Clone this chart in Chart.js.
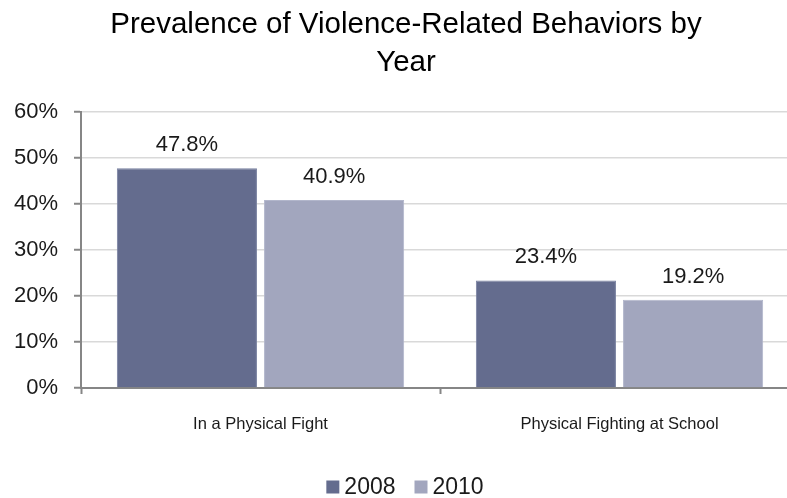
<!DOCTYPE html>
<html>
<head>
<meta charset="utf-8">
<script src="https://cdn.jsdelivr.net/npm/chart.js@4/dist/chart.umd.min.js"></script>
<style>
    html, body { margin: 0; padding: 0; background: #fff; overflow: hidden; }
    #wrap { width: 812px; height: 498px; }
</style>
</head>
<body>
<div id="wrap"><canvas id="chart"></canvas></div>
<script>
// chart data
const categories = ["In a Physical Fight", "Physical Fighting at School"]
const seriesNames = ["2008", "2010"]
const values2008 = [47.8, 23.4]
const values2010 = [40.9, 19.2]
const yTicks = [0, 10, 20, 30, 40, 50, 60]

const axisGray = "#868686"
const textColor = "#1a1a1a"
const font = "'Liberation Sans', Arial, sans-serif"

// value labels above each bar
const barLabels = {
    id: "barLabels",
    afterDatasetsDraw(chart) {
        const ctx = chart.ctx
        ctx.save()
        ctx.font = "22px " + font
        ctx.fillStyle = textColor
        ctx.textAlign = "center"
        ctx.textBaseline = "middle"
        chart.data.datasets.forEach(function(ds, i) {
            chart.getDatasetMeta(i).data.forEach(function(bar, j) {
                ctx.fillText(ds.data[j].toFixed(1) + "%", bar.x, bar.y - 23)
            })
        })
        ctx.restore()
    }
}

// legend drawn by hand so the box/text spacing matches
const bottomLegend = {
    id: "bottomLegend",
    afterDraw(chart) {
        const ctx = chart.ctx
        const box = 13, gapText = 5, gapItem = 19
        const y = 487
        ctx.save()
        ctx.font = "23px " + font
        ctx.textBaseline = "middle"
        const items = chart.data.datasets.map(ds => ({
            text: ds.label, color: ds.backgroundColor, w: ctx.measureText(ds.label).width
        }))
        let total = 0
        items.forEach((it, i) => { total += box + gapText + it.w + (i ? gapItem : 0) })
        let x = chart.width / 2 - total / 2 - 1
        items.forEach(function(it) {
            ctx.fillStyle = it.color
            ctx.fillRect(x, y - box / 2, box, box)
            ctx.fillStyle = textColor
            ctx.fillText(it.text, x + box + gapText, y + 1)
            x += box + gapText + it.w + gapItem
        })
        ctx.restore()
    }
}

const chart = new Chart(document.getElementById("chart"), {
    type: "bar",
    data: {
        labels: categories,
        datasets: [{
            label: seriesNames[0],
            data: values2008,
            backgroundColor: "#646c8e",
            borderColor: "#7880a0",
            borderWidth: 1
        }, {
            label: seriesNames[1],
            data: values2010,
            backgroundColor: "#a2a6be",
            borderColor: "#b2b6cb",
            borderWidth: 1
        }]
    },
    options: {
        responsive: true,
        maintainAspectRatio: false,
        animation: false,
        layout: { padding: { left: 13, right: 13, top: 0, bottom: 40 } },
        datasets: {
            bar: { categoryPercentage: 0.82, barPercentage: 0.952 }
        },
        plugins: {
            title: {
                display: true,
                text: ["Prevalence of Violence-Related Behaviors by", "Year"],
                color: "#000",
                font: { family: font, size: 29.5, weight: "normal", lineHeight: 1.29 },
                padding: { top: 6, bottom: 30 }
            },
            legend: { display: false },
            tooltip: { enabled: false }
        },
        scales: {
            x: {
                afterFit(scale) { scale.height = 70 },
                grid: {
                    drawOnChartArea: false,
                    offset: true,
                    tickLength: 6,
                    tickColor: axisGray,
                    tickWidth: 2
                },
                border: { color: axisGray, width: 2 },
                ticks: {
                    color: textColor,
                    font: { family: font, size: 16.5 },
                    padding: 21
                }
            },
            y: {
                min: 0,
                max: 60,
                afterFit(scale) { scale.width = 68 },
                afterBuildTicks(scale) { scale.ticks = yTicks.map(v => ({ value: v })) },
                grid: {
                    color: "#d9d9d9",
                    lineWidth: 1.5,
                    tickLength: 7,
                    tickColor: axisGray,
                    tickWidth: 2
                },
                border: { color: axisGray, width: 2 },
                ticks: {
                    color: textColor,
                    font: { family: font, size: 22 },
                    padding: 16,
                    callback: v => v + "%"
                }
            }
        }
    },
    plugins: [barLabels, bottomLegend]
})
</script>
</body>
</html>
